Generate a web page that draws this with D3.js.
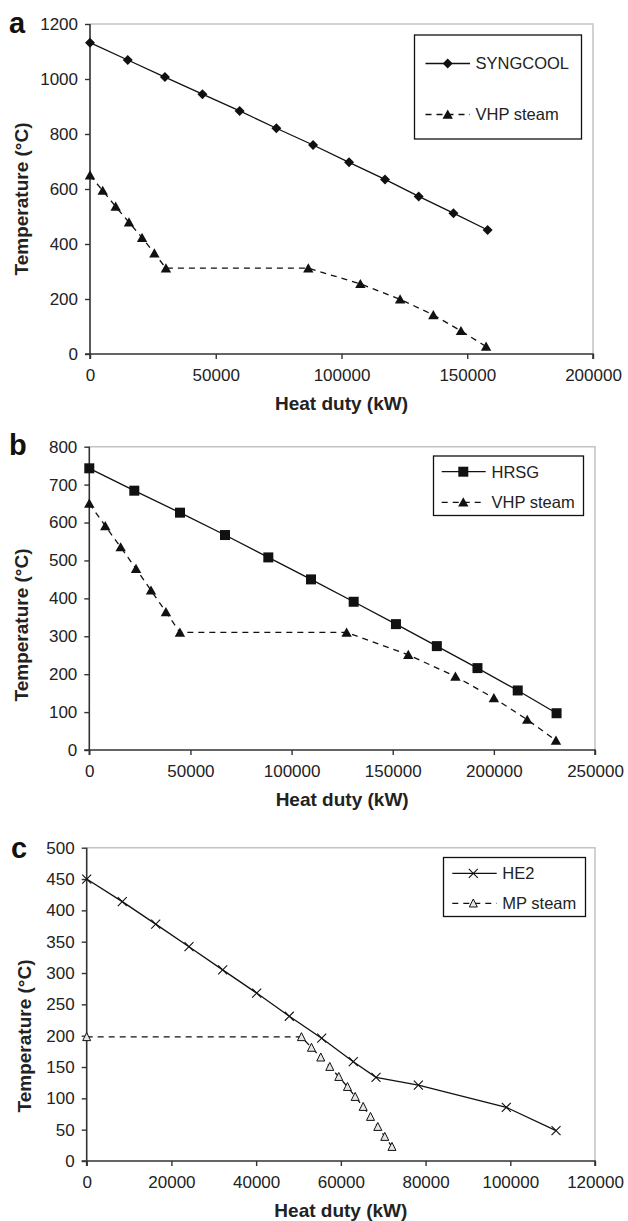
<!DOCTYPE html>
<html>
<head>
<meta charset="utf-8">
<script src="https://cdn.jsdelivr.net/npm/d3@7"></script>
<style>
  body { margin: 0; background: #fff; }
  text { font-family: "Liberation Sans", Arial, sans-serif; }
</style>
</head>
<body>
<div id="chart"></div>
<script>
// panel a: SYNGCOOL vs VHP steam
var syngcoolQ = [0, 15000, 29800, 44700, 59500, 74100, 88700, 103000, 117300, 130700, 144500, 158100];
var syngcoolT = [1132, 1069, 1007, 945, 884, 821, 760, 697, 635, 573, 512, 451];
var vhpAQ = [0, 5050, 10200, 15500, 20700, 25600, 30200, 86800, 107500, 123300, 136500, 147500, 157500];
var vhpAT = [650, 594, 536, 479, 423, 366, 312, 312, 255, 199, 142, 84, 27];

// panel b: HRSG vs VHP steam
var hrsgQ = [0, 22250, 44840, 67080, 88500, 109600, 130700, 151600, 171800, 191900, 211800, 231000];
var hrsgT = [743, 684, 626, 567, 508, 450, 391, 332, 274, 216, 157, 97];
var vhpBQ = [0, 7900, 15500, 23100, 30500, 37900, 44800, 127200, 157700, 181000, 200000, 216500, 230700];
var vhpBT = [650, 591, 535, 478, 421, 364, 310, 310, 251, 194, 137, 80, 25];

// panel c: HE2 vs MP steam
var he2Q = [0, 8400, 16290, 24150, 32100, 40130, 47830, 55480, 62940, 68300, 78300, 99060, 110800];
var he2T = [450, 414, 378, 342, 305, 268, 231, 196, 158.5, 133.5, 121, 85.7, 48.4];
var mpQ = [0, 50700, 53060, 55260, 57390, 59510, 61560, 63380, 65270, 67000, 68720, 70370, 72070];
var mpT = [198, 198, 181, 165.5, 150.5, 134.5, 118.5, 102.6, 86.6, 70.7, 54.7, 38.8, 22.8];

// ticks
var xTicksA = [0, 50000, 100000, 150000, 200000];
var yTicksA = [0, 200, 400, 600, 800, 1000, 1200];
var xTicksB = [0, 50000, 100000, 150000, 200000, 250000];
var yTicksB = [0, 100, 200, 300, 400, 500, 600, 700, 800];
var xTicksC = [0, 20000, 40000, 60000, 80000, 100000, 120000];
var yTicksC = [0, 50, 100, 150, 200, 250, 300, 350, 400, 450, 500];

var width = 628, height = 1221;

var svg = d3.select("#chart")
    .append("svg")
    .attr("width", width)
    .attr("height", height);

function zip(q, t) {
    return q.map(function (d, i) { return { q: d, t: t[i] }; });
}

var markers = {
    diamond: { d: "M0,-5L5,0L0,5L-5,0Z", fill: "#111", stroke: "none", sw: 0 },
    square: { d: "M-5,-5H5V5H-5Z", fill: "#111", stroke: "none", sw: 0 },
    triangle: { d: "M0,-5L5.2,4.2L-5.2,4.2Z", fill: "#111", stroke: "none", sw: 0 },
    cross: { d: "M-4.5,-4.5L4.5,4.5M-4.5,4.5L4.5,-4.5", fill: "none", stroke: "#111", sw: 1.1 },
    openTri: { d: "M0,-4.3L4,3.7L-4,3.7Z", fill: "#e6e6e6", stroke: "#111", sw: 1 }
};

function drawMarkers(g, data, x, y, m) {
    var mk = markers[m];
    g.selectAll(null)
        .data(data)
        .enter()
        .append("path")
        .attr("d", mk.d)
        .attr("transform", function (d) { return "translate(" + x(d.q) + "," + y(d.t) + ")"; })
        .attr("fill", mk.fill)
        .attr("stroke", mk.stroke)
        .attr("stroke-width", mk.sw);
}

function drawPanel(p) {
    var x = d3.scaleLinear().domain(p.xDomain).range([p.left, p.right]);
    var y = d3.scaleLinear().domain(p.yDomain).range([p.bottom, p.top]);
    var g = svg.append("g");

    // light grey frame top and right
    g.append("path")
        .attr("d", "M" + p.left + "," + p.top + "H" + p.right + "V" + p.bottom)
        .attr("fill", "none")
        .attr("stroke", "#c4c4c4")
        .attr("stroke-width", 1.5);

    var xAxis = g.append("g")
        .attr("transform", "translate(0," + p.bottom + ")")
        .call(d3.axisBottom(x).tickValues(p.xTicks).tickSize(5).tickPadding(10).tickFormat(d3.format("d")));
    var yAxis = g.append("g")
        .attr("transform", "translate(" + p.left + ",0)")
        .call(d3.axisLeft(y).tickValues(p.yTicks).tickSize(5).tickPadding(7).tickFormat(d3.format("d")));

    [xAxis, yAxis].forEach(function (ax) {
        ax.select(".domain").attr("stroke", "#333").attr("stroke-width", 1.6);
        ax.selectAll(".tick line").attr("stroke", "#333").attr("stroke-width", 1.4);
        ax.selectAll(".tick text")
            .attr("fill", "#222")
            .style("font-size", "17px")
            .style("font-family", "'Liberation Sans', Arial, sans-serif");
    });

    // the axis lines span the whole plot
    xAxis.select(".domain").attr("d", "M" + p.left + ",5V0H" + p.right + "V5");
    yAxis.select(".domain").attr("d", "M-5," + p.bottom + "H0V" + p.top);

    var line = d3.line()
        .x(function (d) { return x(d.q); })
        .y(function (d) { return y(d.t); });

    p.series.forEach(function (s) {
        var data = zip(s.q, s.t);
        g.append("path")
            .datum(data)
            .attr("d", line)
            .attr("fill", "none")
            .attr("stroke", "#111")
            .attr("stroke-width", 1.3)
            .attr("stroke-dasharray", s.dash ? "6,5" : null);
        drawMarkers(g, data, x, y, s.marker);
    });

    // legend
    var lg = p.legend;
    g.append("rect")
        .attr("x", lg.x0).attr("y", lg.y0)
        .attr("width", lg.x1 - lg.x0).attr("height", lg.y1 - lg.y0)
        .attr("fill", "#fff")
        .attr("stroke", "#111")
        .attr("stroke-width", 1.3);
    p.series.forEach(function (s, i) {
        var ly = lg.rows[i];
        g.append("line")
            .attr("x1", lg.lx0).attr("x2", lg.lx1)
            .attr("y1", ly).attr("y2", ly)
            .attr("stroke", "#111")
            .attr("stroke-width", 1.3)
            .attr("stroke-dasharray", s.dash ? "6,5" : null);
        var mk = markers[s.marker];
        g.append("path")
            .attr("d", mk.d)
            .attr("transform", "translate(" + lg.mx + "," + ly + ")")
            .attr("fill", mk.fill)
            .attr("stroke", mk.stroke)
            .attr("stroke-width", mk.sw);
        g.append("text")
            .attr("x", lg.tx).attr("y", ly)
            .attr("dy", "0.36em")
            .attr("fill", "#222")
            .style("font-size", "16.5px")
            .text(s.name);
    });

    // axis titles
    g.append("text")
        .attr("x", (p.left + p.right) / 2)
        .attr("y", p.bottom + 56)
        .attr("text-anchor", "middle")
        .attr("fill", "#222")
        .style("font-size", "19px")
        .style("font-weight", "bold")
        .text("Heat duty (kW)");
    g.append("text")
        .attr("transform", "translate(" + p.yTitleX + "," + p.yTitleY + ") rotate(-90)")
        .attr("text-anchor", "middle")
        .attr("fill", "#222")
        .style("font-size", "19px")
        .style("font-weight", "bold")
        .text("Temperature (°C)");

    // panel letter
    g.append("text")
        .attr("x", p.labelX).attr("y", p.labelY)
        .attr("fill", "#111")
        .style("font-size", "29px")
        .style("font-weight", "bold")
        .text(p.label);
}

drawPanel({
    label: "a", labelX: 9, labelY: 33,
    left: 90, right: 593, top: 24, bottom: 354,
    xDomain: [0, 200000], yDomain: [0, 1200],
    xTicks: xTicksA, yTicks: yTicksA,
    yTitleX: 28, yTitleY: 199,
    series: [
        { name: "SYNGCOOL", q: syngcoolQ, t: syngcoolT, marker: "diamond", dash: false },
        { name: "VHP steam", q: vhpAQ, t: vhpAT, marker: "triangle", dash: true }
    ],
    legend: { x0: 414.5, x1: 581.5, y0: 35, y1: 139, rows: [63.5, 114.5], lx0: 425.5, lx1: 470, mx: 447.7, tx: 475.5 }
});

drawPanel({
    label: "b", labelX: 9, labelY: 455,
    left: 89.3, right: 595, top: 446.7, bottom: 750,
    xDomain: [0, 250000], yDomain: [0, 800],
    xTicks: xTicksB, yTicks: yTicksB,
    yTitleX: 28, yTitleY: 625,
    series: [
        { name: "HRSG", q: hrsgQ, t: hrsgT, marker: "square", dash: false },
        { name: "VHP steam", q: vhpBQ, t: vhpBT, marker: "triangle", dash: true }
    ],
    legend: { x0: 433.5, x1: 583.5, y0: 456, y1: 515.5, rows: [471.7, 502.3], lx0: 441.7, lx1: 485.7, mx: 463.3, tx: 491.5 }
});

drawPanel({
    label: "c", labelX: 11, labelY: 858,
    left: 86.7, right: 595, top: 847.7, bottom: 1161,
    xDomain: [0, 120000], yDomain: [0, 500],
    xTicks: xTicksC, yTicks: yTicksC,
    yTitleX: 31, yTitleY: 1036,
    series: [
        { name: "HE2", q: he2Q, t: he2T, marker: "cross", dash: false },
        { name: "MP steam", q: mpQ, t: mpT, marker: "openTri", dash: true }
    ],
    legend: { x0: 443.5, x1: 585.5, y0: 857.5, y1: 916.5, rows: [873.3, 903.3], lx0: 452.3, lx1: 496.7, mx: 473.3, tx: 502.3 }
});
</script>
</body>
</html>
